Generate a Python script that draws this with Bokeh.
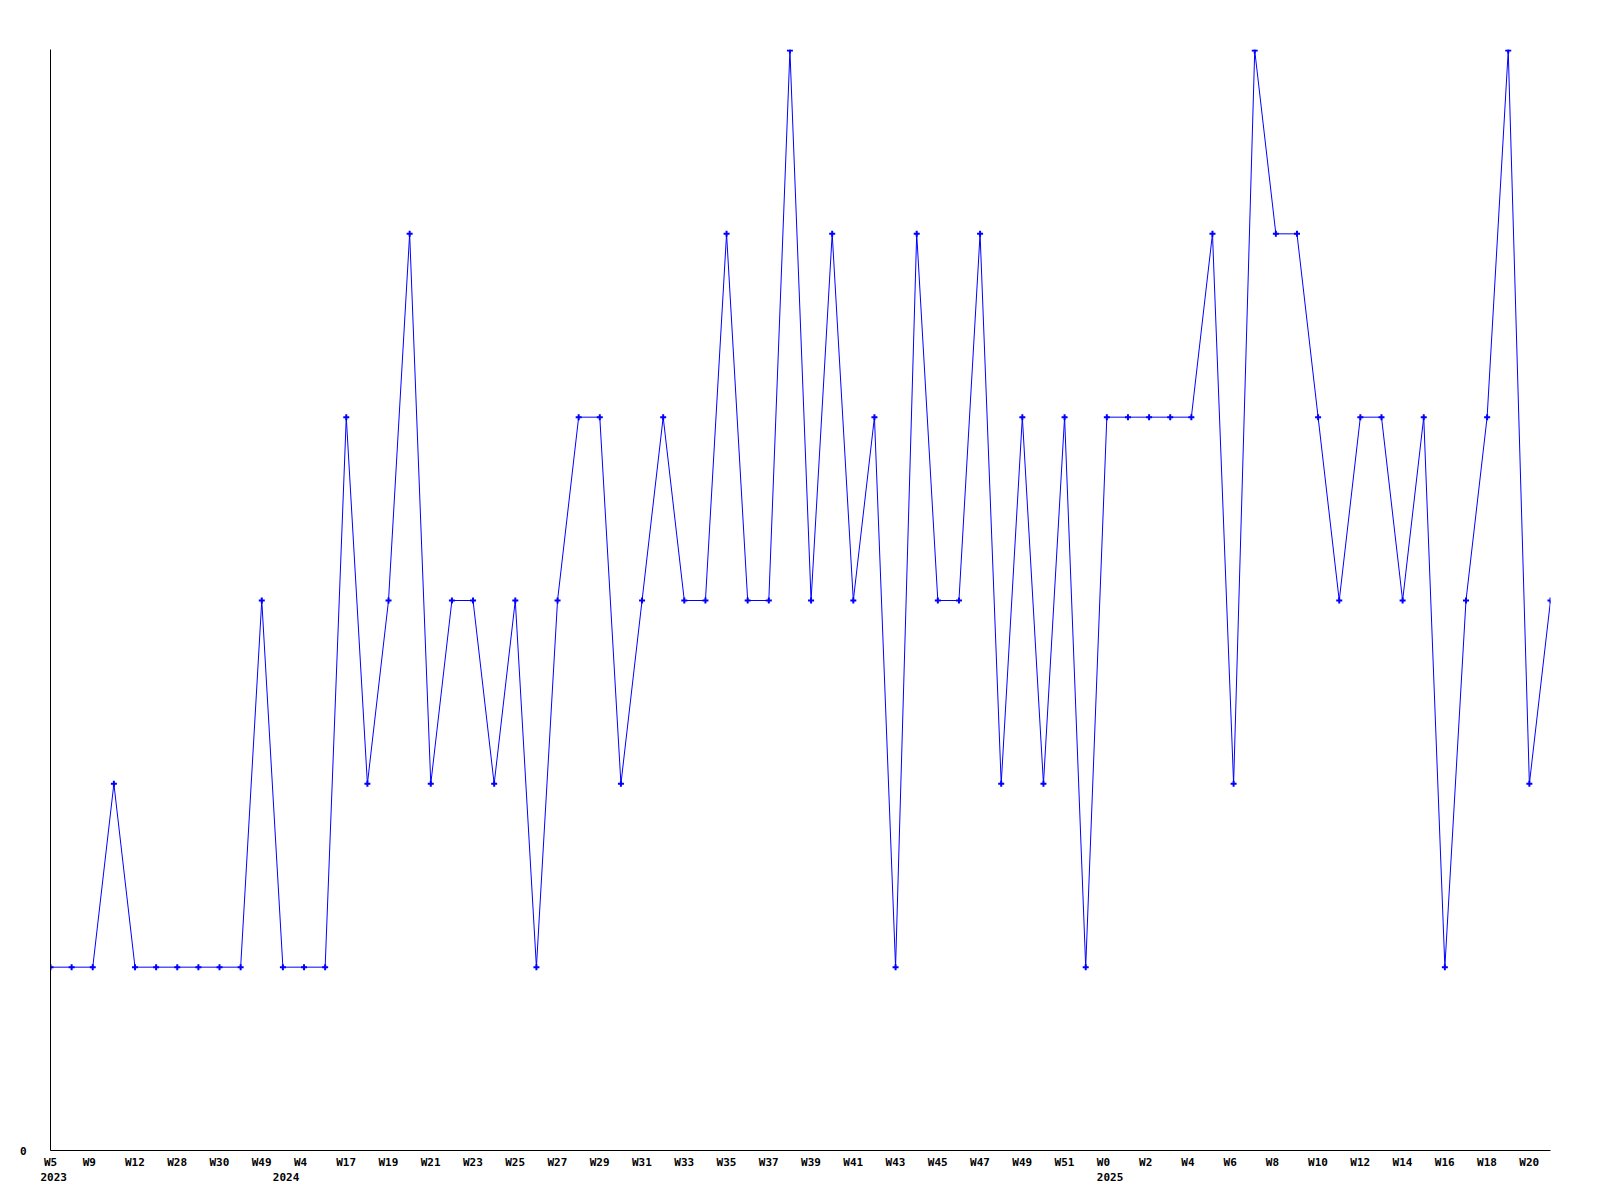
from bokeh.plotting import figure
from bokeh.models import Range1d, FixedTicker, LinearAxis
from bokeh.embed import file_html
from bokeh.resources import INLINE

# --- data -------------------------------------------------------------
weeks = (["W5", "W7", "W9", "W10", "W12", "W20", "W28", "W29", "W30", "W40", "W49",
          "W1", "W4", "W10"]
         + ["W%d" % w for w in range(17, 53)]
         + ["W%d" % w for w in range(0, 22)])
years = ([2023] * 11) + ([2024] * 39) + ([2025] * 22)
values = [1, 1, 1, 2, 1, 1, 1, 1, 1, 1, 3, 1, 1, 1, 4, 2, 3, 5, 2, 3,
          3, 2, 3, 1, 3, 4, 4, 2, 3, 4, 3, 3, 5, 3, 3, 6, 3, 5, 3, 4,
          1, 5, 3, 3, 5, 2, 4, 2, 4, 1, 4, 4, 4, 4, 4, 5, 2, 6, 5, 5,
          4, 3, 4, 4, 3, 4, 1, 3, 4, 6, 2, 3]
y_ticks = [0]

idx = list(range(len(values)))

FONT = "DejaVu Sans Mono"
BLUE = "#0000ff"
FRAME_W = 1500
N = len(values) - 1
PX_PER_UNIT = FRAME_W / N
CHAR_W = 6.6      # px per character at 11px mono
LEFT_OFF = -10    # labels start 10px left of their point


def label_pos(i, text):
    # tick position so that a centred label starts LEFT_OFF px from point i
    return max(0.0, i + (LEFT_OFF + len(text) * CHAR_W / 2) / PX_PER_UNIT)


p = figure(width=1600, height=1200, output_backend="svg", toolbar_location=None,
           x_range=Range1d(0, N), y_range=Range1d(0, 6 + 1 / 183.3),
           min_border_left=50, min_border_right=50, min_border_top=49, min_border_bottom=50,
           background_fill_color="white", border_fill_color="white", x_axis_location=None)
p.outline_line_color = None
p.xgrid.visible = False
p.ygrid.visible = False

p.line(idx, values, line_color=BLUE, line_width=1)
p.scatter(idx, values, marker="cross", size=6, line_color=BLUE, line_width=2)


def style_axis(ax, standoff):
    ax.major_tick_line_color = None
    ax.minor_tick_line_color = None
    ax.major_tick_out = 0
    ax.major_tick_in = 0
    ax.major_label_standoff = standoff
    ax.major_label_text_font = FONT
    ax.major_label_text_font_style = "bold"
    ax.major_label_text_font_size = "11px"
    ax.major_label_text_color = "black"


# week axis (with the axis line)
wk_ticks, wk_over = [], {}
for i in idx:
    if i % 2 == 0:
        t = label_pos(i, weeks[i])
        wk_ticks.append(t)
        wk_over[t] = weeks[i]
xa = LinearAxis(ticker=FixedTicker(ticks=wk_ticks), major_label_overrides=wk_over)
style_axis(xa, 5)
xa.axis_line_color = "black"
p.add_layout(xa, "below")

# year axis
yr_ticks, yr_over = [], {}
for i in idx:
    if i == 0 or years[i] != years[i - 1]:
        t = label_pos(i, str(years[i]))
        yr_ticks.append(t)
        yr_over[t] = str(years[i])
xa2 = LinearAxis(ticker=FixedTicker(ticks=yr_ticks), major_label_overrides=yr_over)
style_axis(xa2, 1)
xa2.axis_line_color = None
p.add_layout(xa2, "below")

ya = p.yaxis[0]
ya.ticker = FixedTicker(ticks=y_ticks)
style_axis(ya, 24)
ya.axis_line_color = "black"

open("out.html", "w").write(file_html(p, INLINE))
